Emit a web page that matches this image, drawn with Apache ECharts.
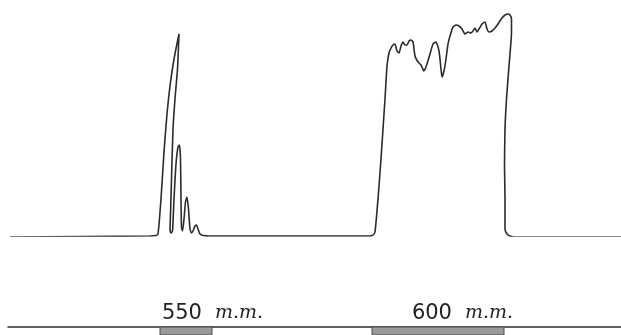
<!DOCTYPE html>
<html>
<head>
<meta charset="utf-8">
<script src="https://cdn.jsdelivr.net/npm/echarts@6/dist/echarts.min.js"></script>
<style>
  html, body { margin: 0; padding: 0; background: #fff; }
  #chart { width: 621px; height: 335px; }
</style>
</head>
<body>
<div id="chart"></div>
<script>
// wavelength (nm) and relative level of the traced curve
const traceNm = [
  515.6, 543.6, 544.8,
  545.2, 545.8, 546.4, 547.0, 547.6, 548.4, 549.4,
  549.1, 548.6, 548.2, 547.9, 547.7, 547.6,
  547.8, 548.1, 548.4, 548.8, 549.2, 549.5, 549.7, 549.8, 549.9,
  550.1, 550.4, 550.7, 551.0, 551.3, 551.6,
  551.9, 552.2, 552.6, 552.9, 553.2, 553.6, 554.2, 555.6,
  587.6, 588.2, 588.6, 589.2, 589.8, 590.2, 590.6, 591.0, 591.4, 591.8,
  592.2, 592.6, 593.0, 593.4, 593.8, 594.2, 594.6, 595.0, 595.4, 595.8,
  596.2, 596.6, 597.2, 597.8, 598.4, 599.0, 599.6, 600.2, 600.8, 601.4,
  601.8, 602.0, 602.4, 602.8, 603.2, 603.6, 604.2, 604.8, 605.4, 606.0,
  606.6, 607.2, 607.8, 608.2, 608.6, 609.0, 609.4, 610.0, 610.6, 611.0,
  611.4, 612.0, 612.6, 613.2, 614.0, 614.6, 615.2, 615.6, 615.9,
  615.9, 615.4, 614.9, 614.6, 614.5, 614.6, 614.6, 615.0, 615.6,
  616.6, 637.8
];
const traceLevel = [
  -0.5, 0, 0.25,
  1, 18.5, 42, 61, 75, 88.5, 101,
  83.5, 68.5, 53.5, 28.5, 11, 3,
  1.5, 2.5, 18.5, 36, 44.5, 45.5, 38.5, 18.5, 4.5,
  2.5, 8.5, 17, 19.5, 13.5, 3.5,
  1.5, 2.5, 5, 5.5, 3.5, 1, 0.25, 0,
  0, 0.5, 2, 18.5, 38.5, 53.5, 68.5, 85, 91.5, 94,
  95.5, 96, 92.5, 91.5, 95, 97, 95.5, 95.5, 97.5, 98,
  97, 90, 87, 85.5, 82.5, 86, 91, 96, 97, 92.5,
  83.5, 79.5, 82.5, 88.5, 96, 100, 104.5, 105.5, 105, 103.5,
  101, 102, 101.5, 102.5, 104, 102, 103.5, 106, 107, 103.5,
  102, 102.5, 104, 106, 109, 110.5, 111, 110.5, 108.5,
  102, 85, 68.5, 53.5, 35, 18.5, 3.5, 1, 0,
  -0.5, -0.5
];

// shaded bands marked under the scale line [from nm, to nm]
const bandNm = [[545.6, 556.0], [588.0, 614.4]];

// scale labels
const scaleTicks = [550, 600];
const scaleUnit = 'm.m.';

const nmMin = 515.2;
const nmMax = 637.8;

const chart = echarts.init(document.getElementById('chart'));

chart.setOption({
  backgroundColor: '#ffffff',
  animation: false,
  grid: [
    { left: 8, right: 0, top: 4, bottom: 99 },
    { left: 8, right: 0, top: 327, height: 8 }
  ],
  xAxis: [
    { type: 'value', gridIndex: 0, min: nmMin, max: nmMax, show: false },
    {
      type: 'value', gridIndex: 1, min: nmMin, max: nmMax, position: 'top',
      axisLine: { show: true, onZero: false, lineStyle: { color: '#2e2e2e', width: 1.5 } },
      axisTick: { show: false },
      splitLine: { show: false },
      axisLabel: {
        customValues: scaleTicks,
        margin: 3,
        formatter: v => '{p|}{n|' + v + '}{u|' + scaleUnit + '}',
        rich: {
          p: { width: 61 },
          n: { fontFamily: 'DejaVu Sans', fontSize: 21, color: '#222' },
          u: { fontFamily: 'DejaVu Serif', fontStyle: 'italic', fontSize: 19, color: '#222', padding: [0, 0, 0, 13] }
        }
      }
    }
  ],
  yAxis: [
    { type: 'value', gridIndex: 0, min: 0, max: 116, show: false },
    { type: 'value', gridIndex: 1, min: 0, max: 1, show: false }
  ],
  series: [
    {
      type: 'line',
      xAxisIndex: 0,
      yAxisIndex: 0,
      data: traceNm.map((x, i) => [x, traceLevel[i]]),
      showSymbol: false,
      smooth: 0.18,
      lineStyle: { color: '#2b2b2b', width: 1.6 }
    },
    {
      type: 'custom',
      xAxisIndex: 1,
      yAxisIndex: 1,
      data: bandNm,
      renderItem: (params, api) => {
        const a = api.coord([api.value(0), 1]);
        const b = api.coord([api.value(1), 0]);
        return {
          type: 'rect',
          shape: { x: a[0], y: a[1], width: b[0] - a[0], height: b[1] - a[1] },
          style: { fill: '#9a9a9a', stroke: '#4a4a4a', lineWidth: 1 }
        };
      }
    }
  ]
});
</script>
</body>
</html>
